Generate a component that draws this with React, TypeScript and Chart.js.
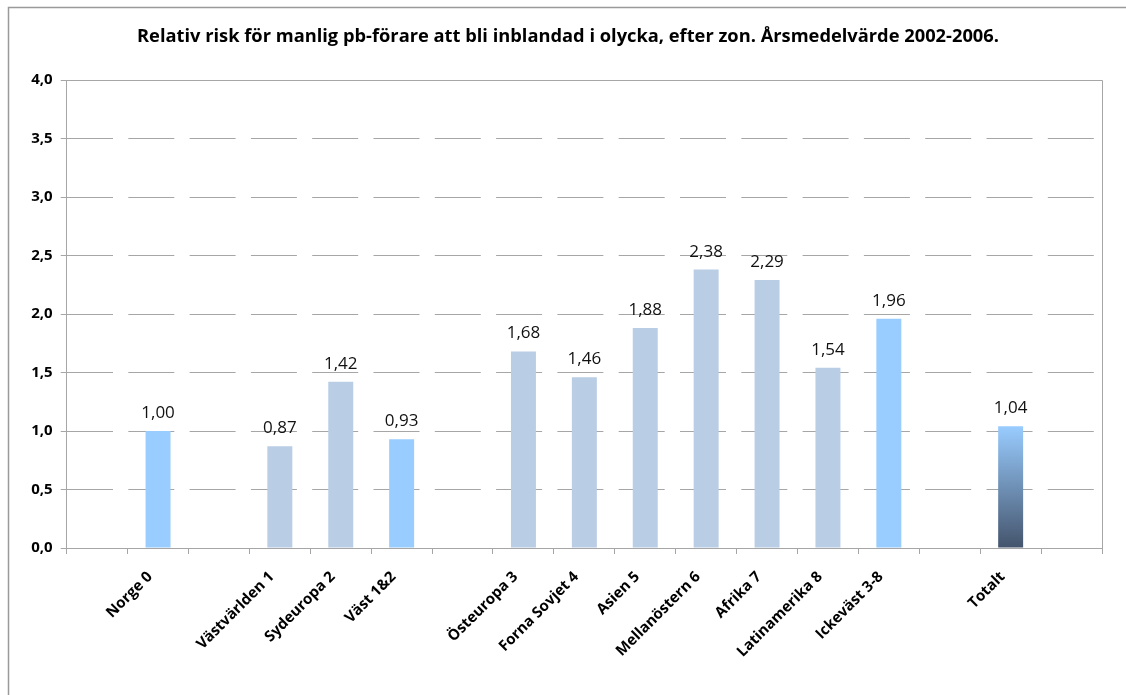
import React, { useEffect, useRef } from "react";
import { Chart, registerables } from "chart.js";

Chart.register(...registerables);

const TITLE = "Relativ risk för manlig pb-förare att bli inblandad i olycka, efter zon. Årsmedelvärde 2002-2006.";

const categories: string[] = [
  "", "Norge 0", "", "Västvärlden 1", "Sydeuropa 2", "Väst 1&2", "",
  "Östeuropa 3", "Forna Sovjet 4", "Asien 5", "Mellanöstern 6", "Afrika 7",
  "Latinamerika 8", "Ickeväst 3-8", "", "Totalt", "",
];

const riskValues: (number | null)[] = [
  null, 1.0, null, 0.87, 1.42, 0.93, null,
  1.68, 1.46, 1.88, 2.38, 2.29, 1.54, 1.96, null, 1.04, null,
];

// bar kind: "agg" = aggregate (light blue), "zone" = single zone, "total" = gradient
const barKinds: string[] = [
  "", "agg", "", "zone", "zone", "agg", "",
  "zone", "zone", "zone", "zone", "zone", "zone", "agg", "", "total", "",
];

const yTicks: number[] = [0, 0.5, 1, 1.5, 2, 2.5, 3, 3.5, 4];

const FONT = "'Open Sans', 'DejaVu Sans', sans-serif";
const GRID = "#a6a6a6";

const fmt = (v: number, d: number) => v.toFixed(d).replace(".", ",");

export default function App() {
  const ref = useRef<HTMLCanvasElement | null>(null);

  useEffect(() => {
    if (!ref.current) return;

    const framePlugin = {
      id: "frame",
      beforeDraw(chart: any) {
        const { ctx } = chart;
        ctx.save();
        ctx.fillStyle = "#ffffff";
        ctx.fillRect(0, 0, chart.width, chart.height);
        ctx.strokeStyle = "#9a9a9a";
        ctx.lineWidth = 1.5;
        ctx.beginPath();
        ctx.moveTo(8.5, chart.height);
        ctx.lineTo(8.5, 7.5);
        ctx.lineTo(chart.width, 7.5);
        ctx.stroke();
        ctx.fillStyle = "#000";
        ctx.font = `bold 18.3px ${FONT}`;
        ctx.textAlign = "center";
        ctx.textBaseline = "middle";
        ctx.fillText(TITLE, 568, 37);
        ctx.restore();
      },
      beforeDatasetsDraw(chart: any) {
        const { ctx, chartArea: a } = chart;
        ctx.save();
        ctx.strokeStyle = GRID;
        ctx.lineWidth = 1;
        ctx.beginPath();
        ctx.moveTo(a.left, a.top + 0.5);
        ctx.lineTo(a.right + 0.5, a.top + 0.5);
        ctx.lineTo(a.right + 0.5, a.bottom + 6);
        ctx.stroke();
        ctx.restore();
      },
      afterDatasetsDraw(chart: any) {
        const { ctx } = chart;
        const meta = chart.getDatasetMeta(0);
        ctx.save();
        ctx.fillStyle = "#111";
        ctx.font = `17px ${FONT}`;
        ctx.textAlign = "center";
        ctx.textBaseline = "alphabetic";
        meta.data.forEach((el: any, i: number) => {
          const v = riskValues[i];
          if (v == null) return;
          ctx.fillText(fmt(v, 2), el.x, el.y - 13);
        });
        ctx.restore();
      },
    };

    const chart = new Chart(ref.current, {
      type: "bar",
      data: {
        labels: categories,
        datasets: [
          {
            data: riskValues,
            barPercentage: 0.41,
            categoryPercentage: 1,
            backgroundColor: (c: any) => {
              const k = barKinds[c.dataIndex];
              if (k === "agg") return "#99CCFF";
              if (k === "total") {
                const ch = c.chart;
                const ys = ch.scales && ch.scales.y;
                if (!ys) return "#7fa6d0";
                const top = ys.getPixelForValue(riskValues[c.dataIndex] as number);
                const bot = ys.getPixelForValue(0);
                const g = ch.ctx.createLinearGradient(0, top, 0, bot);
                g.addColorStop(0, "#99CCFF");
                g.addColorStop(1, "#44546C");
                return g;
              }
              return "#B9CDE5";
            },
          },
        ],
      },
      options: {
        responsive: false,
        animation: false,
        devicePixelRatio: 1,
        layout: { padding: { left: 0, right: 24, top: 80, bottom: 0 } },
        plugins: {
          legend: { display: false },
          title: { display: false },
          tooltip: { enabled: false },
        },
        scales: {
          x: {
            grid: {
              display: true,
              drawOnChartArea: false,
              drawTicks: true,
              tickLength: 6,
              tickColor: GRID,
              offset: true,
            },
            border: { display: true, color: GRID, width: 1 },
            ticks: {
              autoSkip: false,
              maxRotation: 45,
              minRotation: 45,
              padding: 14,
              labelOffset: -8,
              color: "#000",
              font: { family: FONT, size: 15, weight: "bold" },
            },
            afterFit: (s: any) => {
              s.height = 147;
            },
          },
          y: {
            min: 0,
            max: 4,
            afterBuildTicks: (s: any) => {
              s.ticks = yTicks.map((v) => ({ value: v }));
            },
            grid: {
              color: GRID,
              lineWidth: 1,
              drawTicks: true,
              tickLength: 6,
              tickColor: GRID,
              tickBorderDash: [],
            },
            border: { display: true, color: GRID, width: 1, dash: [46, 15.3] },
            ticks: {
              padding: 8,
              color: "#000",
              font: { family: FONT, size: 15, weight: "bold" },
              callback: (v: any) => fmt(Number(v), 1),
            },
            afterFit: (s: any) => {
              s.width = 66.7;
            },
          },
        },
      },
      plugins: [framePlugin],
    });

    return () => chart.destroy();
  }, []);

  return (
    <div style={{ position: "fixed", left: 0, top: 0, width: 1126, height: 695, background: "#fff" }}>
      <canvas ref={ref} width={1126} height={695} style={{ display: "block" }} />
    </div>
  );
}
